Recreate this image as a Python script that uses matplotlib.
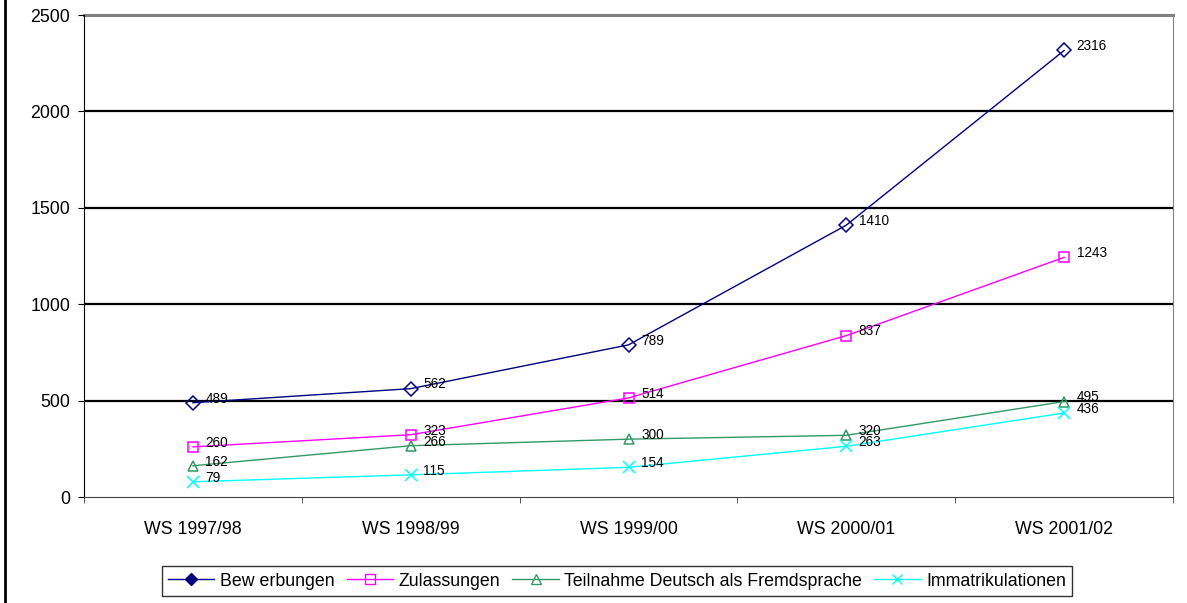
import matplotlib.pyplot as plt
import numpy as np
from matplotlib.lines import Line2D

plt.rcParams['font.family'] = ['Liberation Sans', 'DejaVu Sans']

semester = ['WS 1997/98', 'WS 1998/99', 'WS 1999/00', 'WS 2000/01', 'WS 2001/02']
bewerbungen = [489, 562, 789, 1410, 2316]
zulassungen = [260, 323, 514, 837, 1243]
teilnahme_daf = [162, 266, 300, 320, 495]
immatrikulationen = [79, 115, 154, 263, 436]

series = [
    ('Bew erbungen', bewerbungen, '#000080', 'D'),
    ('Zulassungen', zulassungen, '#FF00FF', 's'),
    ('Teilnahme Deutsch als Fremdsprache', teilnahme_daf, '#339966', '^'),
    ('Immatrikulationen', immatrikulationen, '#00FFFF', 'x'),
]

fig = plt.figure(figsize=(11.87, 6.03), dpi=100)
ax = fig.add_axes([84/1187, 1 - 497/603, (1173 - 84)/1187, (497 - 15)/603])

x = np.arange(len(semester))

# horizontal gridlines
for yy in [500, 1000, 1500, 2000]:
    ax.axhline(yy, color='black', lw=1.6, zorder=1)
ax.axhline(2500, color='#808080', lw=2.2, zorder=1, clip_on=False)

handles = []
for name, vals, col, mk in series:
    ms = 7 if mk != 'x' else 8
    ax.plot(x, vals, color=col, lw=1, marker=mk, ms=ms, mfc='none',
            mec=col, mew=1.1, zorder=3)
    for xi, v in zip(x, vals):
        ax.annotate(str(v), (xi, v), xytext=(9, 3), textcoords='offset points',
                    fontsize=9.8, ha='left', va='center', zorder=4)
    mfc = col if mk == 'D' else 'none'
    handles.append(Line2D([], [], color=col, lw=1, marker=mk, ms=6 if mk == 'D' else 7,
                          mfc=mfc, mec=col, mew=1, label=name))

ax.set_xlim(-0.5, len(semester) - 0.5)
ax.set_ylim(0, 2500)
ax.set_yticks([0, 500, 1000, 1500, 2000, 2500])
ax.set_xticks(x)
ax.set_xticklabels(semester)
ax.set_xticks(np.arange(-0.5, len(semester)), minor=True)
ax.tick_params(axis='x', which='major', length=0, pad=17, labelsize=12.8)
ax.tick_params(axis='x', which='minor', length=4, color='#404040')
ax.tick_params(axis='y', length=4, pad=6, labelsize=12.8)

ax.spines['top'].set_visible(False)
ax.spines['right'].set_color('#808080')
ax.spines['bottom'].set_color('#404040')
ax.spines['left'].set_color('black')

leg = fig.legend(handles=handles, loc='center', bbox_to_anchor=(617/1187, 1 - 581/603),
                 ncol=4, frameon=True, fancybox=False, edgecolor='black',
                 fontsize=12.8, handlelength=2.6, handletextpad=0.3, columnspacing=0.7,
                 borderpad=0.35)
leg.get_frame().set_linewidth(1)

# outer chart border on the left edge
fig.add_artist(Line2D([5/1187, 5/1187], [0, 1], color='black', lw=2,
                      transform=fig.transFigure))

fig.savefig('out.png', dpi=100)
